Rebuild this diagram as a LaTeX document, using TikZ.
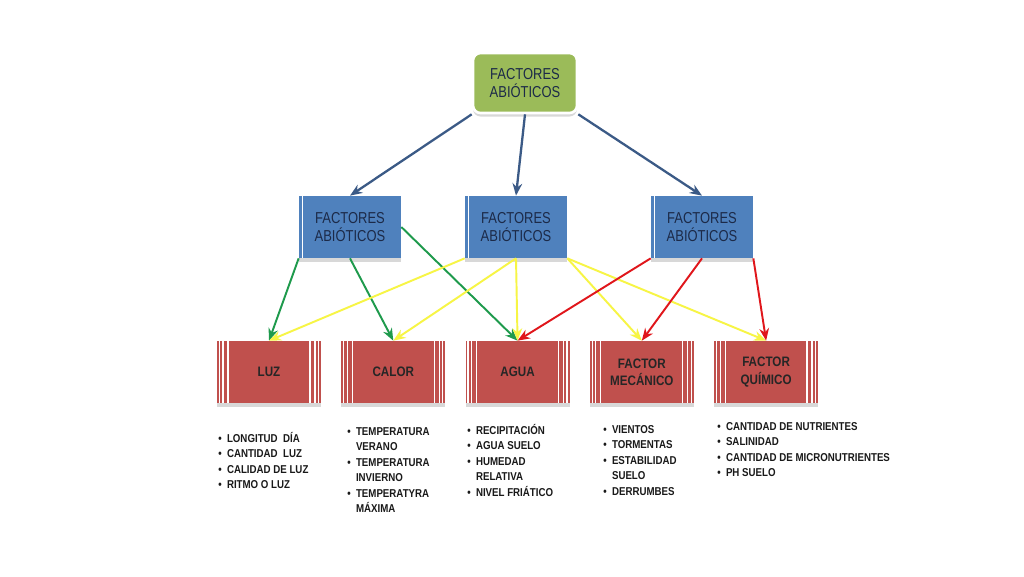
\documentclass[tikz,border=0pt]{standalone}
\usepackage{fontspec}
\usepackage{tikz}
\usetikzlibrary{positioning,shadows,arrows.meta}
\setmainfont{Liberation Sans}
\newfontfamily\boxfont[FakeStretch=0.82]{Liberation Sans}
\newfontfamily\listfont[FakeStretch=0.85]{Liberation Sans Bold}
\definecolor{topgreen}{HTML}{9BBB59}
\definecolor{midblue}{HTML}{4F81BD}
\definecolor{lowred}{HTML}{C0504D}
\definecolor{navy}{HTML}{1C2A48}
\definecolor{linkblue}{HTML}{3B5A86}
\definecolor{linkgreen}{HTML}{1E9A4C}
\definecolor{linkyellow}{HTML}{F7F545}
\definecolor{linkred}{HTML}{E0161B}
\newcommand{\bul}{\textbullet\hspace{3pt}}
\newcommand{\ind}{\phantom{\textbullet}\hspace{3pt}}
\tikzstyle{every node}=[inner sep=0pt]
\tikzstyle{shade}=[drop shadow={shadow xshift=0pt,shadow yshift=-2pt,opacity=0.3}]
\tikzstyle{root}=[rectangle,rounded corners=0.15cm,fill=topgreen,draw=white,line width=1.5pt,shade,
  minimum width=2.08cm,minimum height=1.2cm,align=center,text=navy,
  font=\boxfont\fontsize{9}{10.2}\selectfont]
\tikzstyle{group}=[rectangle,fill=midblue,shade,minimum width=2.04cm,minimum height=1.24cm,
  align=center,text=navy,font=\boxfont\fontsize{9}{10.2}\selectfont,
  path picture={\draw[white,line width=0.8pt] ([xshift=0.07cm]path picture bounding box.south west)
    -- ([xshift=0.07cm]path picture bounding box.north west);}]
\tikzstyle{factor}=[rectangle,fill=lowred,shade,minimum width=2.08cm,minimum height=1.24cm,
  align=center,text=black!85,font=\listfont\fontsize{7.8}{9.8}\selectfont,
  path picture={\foreach \d in {0.05,0.12,0.22}{
    \draw[white,line width=0.7pt] ([xshift=\d cm]path picture bounding box.south west)
      -- ([xshift=\d cm]path picture bounding box.north west);
    \draw[white,line width=0.7pt] ([xshift=-\d cm]path picture bounding box.south east)
      -- ([xshift=-\d cm]path picture bounding box.north east);}}]
\tikzstyle{items}=[anchor=north west,align=left,text=black!90,
  font=\listfont\fontsize{6.5}{8.8}\selectfont]

\begin{document}
\begin{tikzpicture}[x=0.02cm,y=-0.02cm,node distance=2.486cm,>={Stealth[length=7pt,width=5.5pt]}]
	\useasboundingbox[fill=white] (0,0) rectangle (1024,576);
	\node[root]   (top) at (525,83)  {FACTORES\\ABIÓTICOS};
	\node[group]  (g_1) at (350,227) {FACTORES\\ABIÓTICOS};
	\node[group]  (g_2) at (516,227) {FACTORES\\ABIÓTICOS};
	\node[group]  (g_3) at (702,227) {FACTORES\\ABIÓTICOS};
	\node[factor] (luz)   at (269,372)     {LUZ};
	\node[factor] (calor) [right of=luz]   {CALOR};
	\node[factor] (agua)  [right of=calor] {AGUA};
	\node[factor] (mec)   [right of=agua]  {FACTOR\\MECÁNICO};
	\node[factor] (quim)  [right of=mec]   {FACTOR\\QUÍMICO};
	% listas
	\node[items] (l_luz) at (218,432) {\bul LONGITUD\ \ DÍA\\\bul CANTIDAD\ \ LUZ\\\bul CALIDAD DE LUZ\\\bul RITMO O LUZ};
	\node[items] (l_calor) at (347,427) {\bul TEMPERATURA\\\ind VERANO\\\bul TEMPERATURA\\\ind INVIERNO\\\bul TEMPERATYRA\\\ind MÁXIMA};
	\node[items] (l_agua) at (467,424) {\bul RECIPITACIÓN\\\bul AGUA SUELO\\\bul HUMEDAD\\\ind RELATIVA\\\bul NIVEL FRIÁTICO};
	\node[items] (l_mec) at (603,425) {\bul VIENTOS\\\bul TORMENTAS\\\bul ESTABILIDAD\\\ind SUELO\\\bul DERRUMBES};
	\node[items] (l_quim) at (717,422) {\bul CANTIDAD DE NUTRIENTES\\\bul SALINIDAD\\\bul CANTIDAD DE MICRONUTRIENTES\\\bul PH SUELO};
	\path[->,linkblue,line width=1.3pt]
	(top.south west) edge (g_1.north)
	(top.south)      edge (g_2.north)
	(top.south east) edge (g_3.north);
	\path[->,linkgreen,line width=1.1pt]
	(g_1.south west) edge (luz.north)
	(g_1.south)      edge (calor.north)
	(g_1.east)       edge (agua.north);
	\path[->,linkyellow,line width=1.1pt]
	(g_2.south west) edge (luz.north)
	(g_2.south)      edge (calor.north)
	                 edge (agua.north)
	(g_2.south east) edge (mec.north)
	                 edge (quim.north);
	\path[->,linkred,line width=1.1pt]
	(g_3.south west) edge (agua.north)
	(g_3.south)      edge (mec.north)
	(g_3.south east) edge (quim.north);
\end{tikzpicture}
\end{document}
